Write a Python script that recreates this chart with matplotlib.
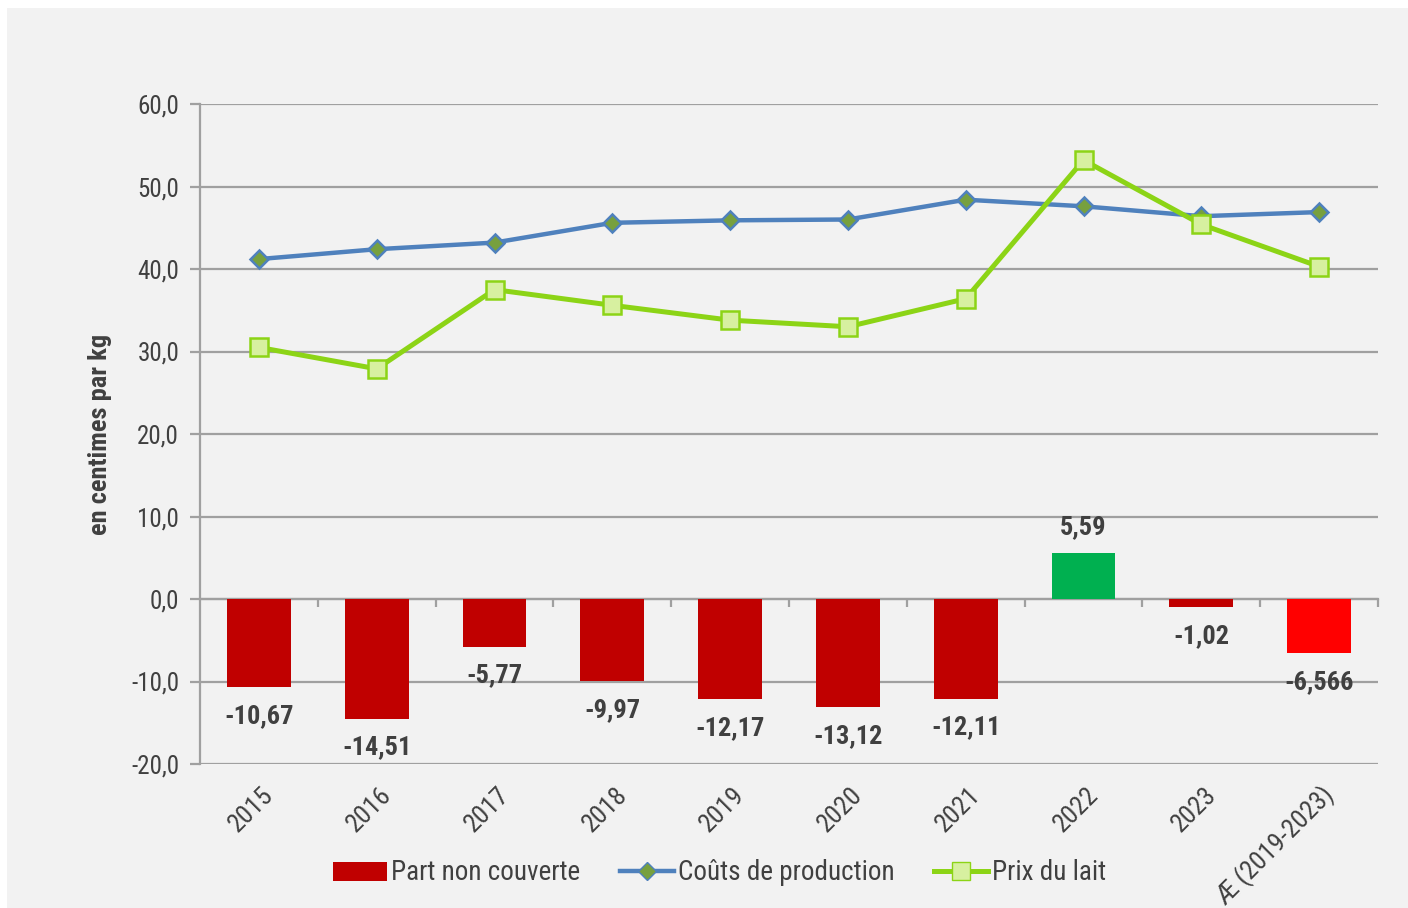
import matplotlib
matplotlib.use("Agg")
import matplotlib.pyplot as plt
from matplotlib import font_manager
from matplotlib.patches import Rectangle
from matplotlib.lines import Line2D
import matplotlib.transforms as mtransforms

# pick a narrow font if one is installed
names = {f.name for f in font_manager.fontManager.ttflist}
font = "Roboto"
for cand in ["Roboto Condensed", "Liberation Sans Narrow", "Roboto"]:
    if cand in names:
        font = cand
        break
plt.rcParams["font.family"] = [font, "DejaVu Sans"]

years = ["2015", "2016", "2017", "2018", "2019", "2020", "2021", "2022", "2023", "Æ (2019-2023)"]
couts = [41.2, 42.4, 43.2, 45.6, 45.9, 46.0, 48.4, 47.6, 46.4, 46.9]
prix = [30.5, 27.9, 37.5, 35.6, 33.8, 33.0, 36.4, 53.2, 45.4, 40.3]
part = [-10.67, -14.51, -5.77, -9.97, -12.17, -13.12, -12.11, 5.59, -1.02, -6.566]
part_labels = ["-10,67", "-14,51", "-5,77", "-9,97", "-12,17", "-13,12", "-12,11", "5,59", "-1,02", "-6,566"]
bar_colors = ["#C00000"] * 7 + ["#00B050", "#C00000", "#FF0000"]
yticks = [-20, -10, 0, 10, 20, 30, 40, 50, 60]
ytick_labels = ["-20,0", "-10,0", "0,0", "10,0", "20,0", "30,0", "40,0", "50,0", "60,0"]

bg = "#F2F2F2"
grid_c = "#A0A0A0"
text_c = "#404040"

fig = plt.figure(figsize=(14.08, 9.08), dpi=100, facecolor="white")
fig.patches.append(Rectangle((7 / 1408, 0), 1, 900 / 908, transform=fig.transFigure,
                             facecolor=bg, edgecolor="none", zorder=-10))

ax = fig.add_axes([200 / 1408, (908 - 764) / 908, 1178 / 1408, 660 / 908])
ax.set_facecolor(bg)
x = list(range(len(years)))
ax.set_xlim(-0.5, len(years) - 0.5)
ax.set_ylim(-20, 60)

for v in yticks:
    ax.axhline(v, color=grid_c, lw=1.6, zorder=1)

ax.bar(x, part, width=0.54, color=bar_colors, zorder=3)

ax.plot(x, couts, color="#4F81BD", lw=3.2, marker="D", markersize=9.5,
        markerfacecolor="#77A03E", markeredgecolor="#4F81BD", markeredgewidth=1.8, zorder=4)
ax.plot(x, prix, color="#8CD416", lw=3.6, marker="s", markersize=13,
        markerfacecolor="#D7F0A0", markeredgecolor="#8CD416", markeredgewidth=1.8, zorder=5)

# data labels of the bars
for xi, v, lab in zip(x, part, part_labels):
    if v >= 0:
        ax.annotate(lab, (xi, v), xytext=(0, 10), textcoords="offset points",
                    ha="center", va="bottom", fontsize=19, fontweight="bold", color=text_c, zorder=6)
    else:
        ax.annotate(lab, (xi, v), xytext=(0, -12), textcoords="offset points",
                    ha="center", va="top", fontsize=19, fontweight="bold", color=text_c, zorder=6)

# axes styling
for s in ["top", "right"]:
    ax.spines[s].set_visible(False)
ax.spines["left"].set_color(grid_c)
ax.spines["left"].set_linewidth(1.6)
ax.spines["bottom"].set_position(("data", 0))
ax.spines["bottom"].set_color(grid_c)
ax.spines["bottom"].set_linewidth(1.6)

ax.set_yticks(yticks)
ax.set_yticklabels(ytick_labels)
ax.tick_params(axis="y", direction="out", length=7, width=1.6, color=grid_c,
               labelsize=18, labelcolor=text_c, pad=8)
ax.set_xticks([i + 0.5 for i in range(len(years))])
ax.set_xticklabels([])
ax.tick_params(axis="x", direction="out", length=6, width=1.6, color=grid_c)

# category labels below the plot area
trans = mtransforms.blended_transform_factory(ax.transData, ax.transAxes)
for xi, lab in zip(x, years):
    t = ax.text(xi, 0, lab, transform=trans, rotation=45, ha="right", va="center",
                rotation_mode="anchor", fontsize=19, color=text_c)
    t.set_transform(trans + mtransforms.ScaledTranslation(11 / 100, -27 / 100, fig.dpi_scale_trans))

ax.set_ylabel("en centimes par kg", fontsize=19, fontweight="bold", color=text_c, labelpad=14)

handles = [
    Rectangle((0, 0), 1, 1, facecolor="#C00000"),
    Line2D([], [], color="#4F81BD", lw=3.2, marker="D", markersize=9.5,
           markerfacecolor="#77A03E", markeredgecolor="#4F81BD"),
    Line2D([], [], color="#8CD416", lw=3.6, marker="s", markersize=13,
           markerfacecolor="#D7F0A0", markeredgecolor="#8CD416"),
]
leg = fig.legend(handles, ["Part non couverte", "Coûts de production", "Prix du lait"],
                 loc="center", bbox_to_anchor=(0.511, 35 / 908), ncol=3, frameon=False,
                 fontsize=19.5, handlelength=2.0, handletextpad=0.15, columnspacing=1.45)
for t in leg.get_texts():
    t.set_color(text_c)

fig.savefig("out.png", dpi=100, facecolor="white")
